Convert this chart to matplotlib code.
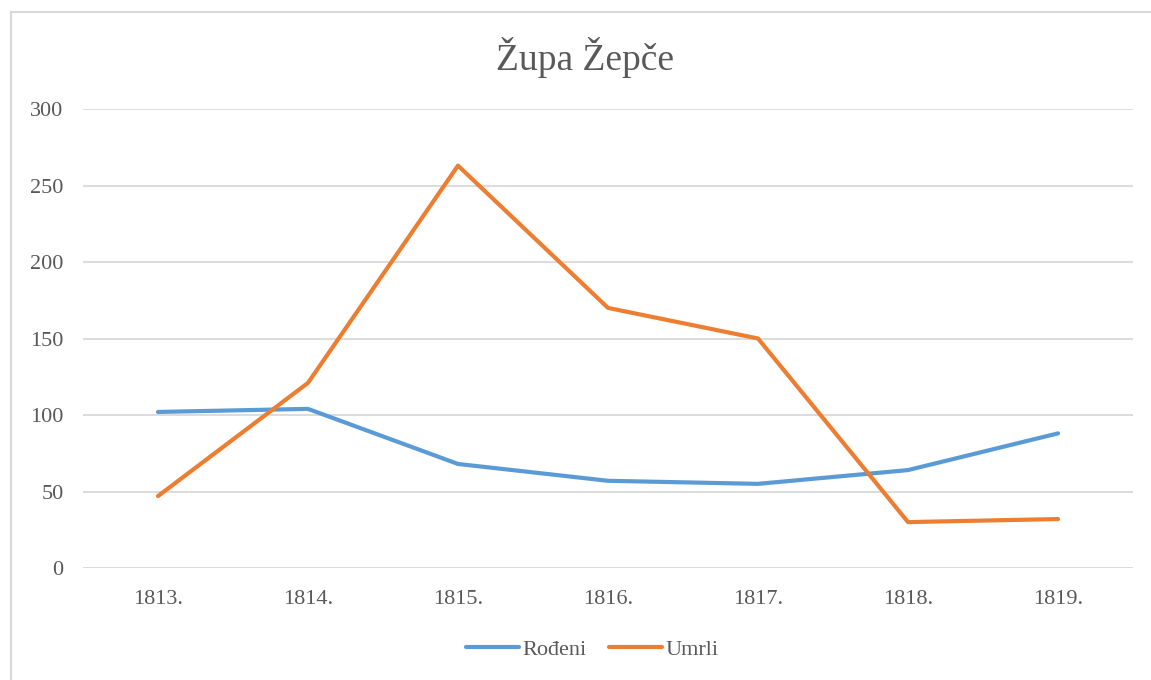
import matplotlib.pyplot as plt
from matplotlib.patches import Rectangle

plt.rcParams['font.family'] = ['Liberation Serif', 'DejaVu Serif']

# podaci
godine = ['1813.', '1814.', '1815.', '1816.', '1817.', '1818.', '1819.']
rodeni = [102, 104, 68, 57, 55, 64, 88]
umrli = [47, 121, 263, 170, 150, 30, 32]

fig = plt.figure(figsize=(11.51, 6.8), dpi=100)
ax = fig.add_axes([0.0721, 0.1647, 0.9123, 0.675])

# okvir grafikona
fig.patches.append(Rectangle((11 / 1151, -0.01), 1.02, 1 - 12 / 680 + 0.01,
                             transform=fig.transFigure, fill=False,
                             edgecolor='#D9D9D9', linewidth=1.5))

x = range(len(godine))
ax.plot(x, rodeni, color='#5B9BD5', linewidth=3, label='Rođeni',
        solid_capstyle='round', solid_joinstyle='round')
ax.plot(x, umrli, color='#ED7D31', linewidth=3, label='Umrli',
        solid_capstyle='round', solid_joinstyle='round')

ax.set_xlim(-0.5, 6.5)
ax.set_ylim(0, 300)
ax.set_yticks(range(0, 301, 50))
ax.set_xticks(list(x))
ax.set_xticklabels(godine)
ax.tick_params(axis='both', length=0, labelsize=16, labelcolor='#595959')
ax.tick_params(axis='y', pad=14)
ax.tick_params(axis='x', pad=16)
ax.grid(axis='y', color='#D9D9D9', linewidth=1.3)
ax.set_axisbelow(True)
for s in ax.spines.values():
    s.set_visible(False)

fig.text(0.508, 0.915, 'Župa Žepče', ha='center', va='center',
         fontsize=27, color='#595959')

ax.legend(loc='center', bbox_to_anchor=(0.485, -0.177), ncol=2, frameon=False,
          fontsize=16, labelcolor='#595959', handlelength=2.4,
          handletextpad=0.15, columnspacing=1.0)

plt.savefig('out.png', dpi=100)
